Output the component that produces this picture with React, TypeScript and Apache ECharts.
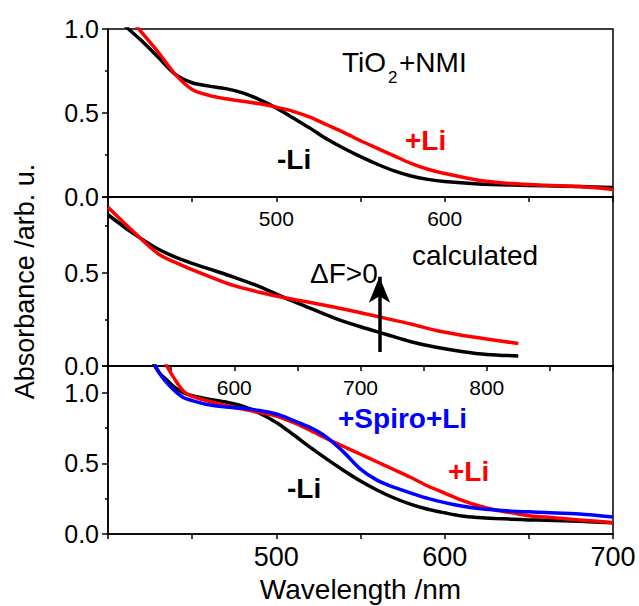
import React, { useEffect, useRef } from 'react';
import * as echarts from 'echarts';

// ---- Top panel: TiO2 + NMI (measured) ----
const topWavelengths = [400, 410, 420, 430, 440, 450, 460, 470, 480, 490, 500, 510, 520, 530, 540, 550, 560, 570, 580, 590, 600, 620, 640, 660, 680, 700];
const topNoLi = [1.12, 1.02, 0.93, 0.83, 0.73, 0.68, 0.66, 0.645, 0.62, 0.58, 0.53, 0.47, 0.41, 0.345, 0.29, 0.24, 0.195, 0.155, 0.125, 0.105, 0.092, 0.078, 0.071, 0.067, 0.062, 0.056];
const topLi = [1.25, 1.1, 0.98, 0.86, 0.73, 0.64, 0.605, 0.585, 0.57, 0.555, 0.535, 0.51, 0.475, 0.43, 0.385, 0.335, 0.29, 0.245, 0.2, 0.165, 0.14, 0.1, 0.08, 0.07, 0.062, 0.045];

// ---- Middle panel: calculated ----
const calcWavelengths = [500, 520, 540, 560, 580, 600, 620, 640, 660, 680, 700, 720, 740, 760, 780, 800, 825];
const calcNoLi = [0.81, 0.71, 0.625, 0.565, 0.52, 0.475, 0.425, 0.365, 0.31, 0.255, 0.21, 0.17, 0.13, 0.1, 0.078, 0.062, 0.054];
const calcLi = [0.85, 0.72, 0.6, 0.535, 0.48, 0.43, 0.395, 0.365, 0.34, 0.315, 0.285, 0.255, 0.225, 0.19, 0.165, 0.145, 0.12];
const arrowWavelength = 715;
const arrowFrom = 0.075;
const arrowTo = 0.478;

// ---- Bottom panel: measured with Spiro ----
const botWavelengths = [420, 425, 430, 435, 440, 445, 450, 460, 470, 480, 490, 500, 510, 520, 530, 540, 550, 560, 570, 580, 590, 600, 610, 620, 630, 640, 650, 660, 680, 700];
const botNoLi = [1.5, 1.26, 1.15, 1.09, 1.035, 1.0, 0.98, 0.955, 0.935, 0.905, 0.855, 0.79, 0.705, 0.615, 0.53, 0.45, 0.375, 0.31, 0.255, 0.21, 0.175, 0.15, 0.128, 0.117, 0.11, 0.105, 0.1, 0.097, 0.09, 0.08];
const botLi = [1.65, 1.47, 1.32, 1.19, 1.09, 1.01, 0.975, 0.94, 0.91, 0.885, 0.86, 0.835, 0.79, 0.735, 0.675, 0.62, 0.565, 0.51, 0.455, 0.4, 0.34, 0.29, 0.24, 0.2, 0.17, 0.15, 0.13, 0.12, 0.1, 0.08];
const botSpiroLi = [1.45, 1.28, 1.15, 1.07, 1.01, 0.965, 0.945, 0.915, 0.9, 0.89, 0.875, 0.85, 0.805, 0.755, 0.685, 0.58, 0.46, 0.38, 0.33, 0.29, 0.252, 0.222, 0.198, 0.181, 0.17, 0.162, 0.157, 0.152, 0.142, 0.12];

// ---- Tick labels ----
const topXLabels = [500, 600];
const calcXLabels = [600, 700, 800];
const botXLabels = [500, 600, 700];
const yLabels = [0, 0.5, 1.0];

const FONT = '"Liberation Sans", Arial, Helvetica, sans-serif';

const zip = (xs: number[], ys: number[]) => xs.map((x, i) => [x, ys[i]]);

export default function App() {
  const ref = useRef<HTMLDivElement>(null);

  useEffect(() => {
    if (!ref.current) return;
    const chart = echarts.init(ref.current, undefined, { renderer: 'svg' });

    const gridBase = {
      left: 108,
      width: 505,
      show: true,
      borderColor: '#000',
      borderWidth: 1.5,
      backgroundColor: 'transparent',
      containLabel: false,
      outerBoundsMode: 'none',
    };

    const lineAxis = { show: true, lineStyle: { color: '#000', width: 1.5 } };

    const xAxisBase = (gridIndex: number, min: number, max: number, labels: number[], fontSize: number, margin: number) => ({
      type: 'value',
      gridIndex,
      min,
      max,
      interval: 50,
      axisLine: lineAxis,
      axisTick: { show: true, inside: false, length: 5, lineStyle: { color: '#000', width: 1.5 } },
      splitLine: { show: false },
      axisLabel: {
        show: true,
        showMinLabel: true,
        showMaxLabel: true,
        color: '#000',
        fontFamily: FONT,
        fontSize,
        margin,
        formatter: (v: number) => (labels.includes(Math.round(v)) ? String(Math.round(v)) : ''),
      },
    });

    const yAxisBase = (gridIndex: number, max: number) => ({
      type: 'value',
      gridIndex,
      min: 0,
      max,
      interval: 0.5,
      axisLine: lineAxis,
      axisTick: { show: true, inside: false, length: 6, lineStyle: { color: '#000', width: 1.5 } },
      minorTick: { show: true, splitNumber: 2, length: 3, lineStyle: { color: '#000', width: 1.5 } },
      splitLine: { show: false },
      minorSplitLine: { show: false },
      axisLabel: {
        show: true,
        showMinLabel: true,
        showMaxLabel: true,
        color: '#000',
        fontFamily: FONT,
        fontSize: 25,
        margin: 9,
        formatter: (v: number) => (yLabels.some((l) => Math.abs(l - v) < 1e-6) ? v.toFixed(1) : ''),
      },
    });

    const lineSeries = (xi: number, data: number[][], color: string, z: number, extra: any = {}) => ({
      type: 'line',
      xAxisIndex: xi,
      yAxisIndex: xi,
      data,
      symbol: 'none',
      showSymbol: false,
      smooth: 0.3,
      clip: true,
      color,
      z,
      lineStyle: { color, width: 3.5 },
      emphasis: { disabled: true },
      ...extra,
    });

    const txt = (text: string, x: number, y: number, color: string, size: number, bold = false) => ({
      type: 'text',
      x,
      y,
      z: 100,
      style: {
        text,
        fill: color,
        fontFamily: FONT,
        fontSize: size,
        fontWeight: bold ? 'bold' : 'normal',
        align: 'left',
        verticalAlign: 'middle',
      },
    });

    chart.setOption({
      animation: false,
      backgroundColor: '#fff',
      grid: [
        { ...gridBase, top: 29, height: 168 },
        { ...gridBase, top: 197, height: 169 },
        { ...gridBase, top: 366, height: 168 },
      ],
      xAxis: [
        xAxisBase(0, 400, 700, topXLabels, 21, 11),
        xAxisBase(1, 500, 900, calcXLabels, 21, 11),
        {
          ...xAxisBase(2, 400, 700, botXLabels, 27, 9),
          name: 'Wavelength /nm',
          nameLocation: 'middle',
          nameGap: 41,
          nameTextStyle: { color: '#000', fontFamily: FONT, fontSize: 28 },
        },
      ],
      yAxis: [
        yAxisBase(0, 1.0),
        {
          ...yAxisBase(1, 0.905),
          name: 'Absorbance /arb. u.',
          nameLocation: 'middle',
          nameGap: 70,
          nameTextStyle: { color: '#000', fontFamily: FONT, fontSize: 27 },
        },
        yAxisBase(2, 1.19),
      ],
      series: [
        lineSeries(0, zip(topWavelengths, topNoLi), '#000000', 2),
        lineSeries(0, zip(topWavelengths, topLi), '#ff0000', 3),
        lineSeries(1, zip(calcWavelengths, calcNoLi), '#000000', 2, {
          markLine: {
            silent: true,
            animation: false,
            symbol: ['none', 'arrow'],
            symbolSize: [16, 26],
            label: { show: false },
            lineStyle: { color: '#000', width: 3.5, type: 'solid' },
            emphasis: { disabled: true },
            data: [[{ coord: [arrowWavelength, arrowFrom] }, { coord: [arrowWavelength, arrowTo] }]],
          },
        }),
        lineSeries(1, zip(calcWavelengths, calcLi), '#ff0000', 3),
        lineSeries(2, zip(botWavelengths, botNoLi), '#000000', 2),
        lineSeries(2, zip(botWavelengths, botLi), '#ff0000', 3),
        lineSeries(2, zip(botWavelengths, botSpiroLi), '#0000ff', 4),
      ],
      graphic: [
        txt('TiO', 342, 62, '#000', 28),
        txt('2', 388, 77, '#000', 17),
        txt('+NMI', 399, 62, '#000', 28),
        txt('+Li', 405, 140, '#ff0000', 28, true),
        txt('-Li', 277, 159, '#000', 28, true),
        txt('\u0394F>0', 310, 273, '#000', 28),
        txt('calculated', 412, 255, '#000', 28),
        txt('+Spiro+Li', 338, 418, '#0000ff', 28, true),
        txt('+Li', 448, 471, '#ff0000', 28, true),
        txt('-Li', 287, 488, '#000', 28, true),
      ],
    });

    return () => chart.dispose();
  }, []);

  return (
    <div
      ref={ref}
      style={{ position: 'absolute', left: 0, top: 0, width: 639, height: 606, background: '#fff' }}
    />
  );
}
